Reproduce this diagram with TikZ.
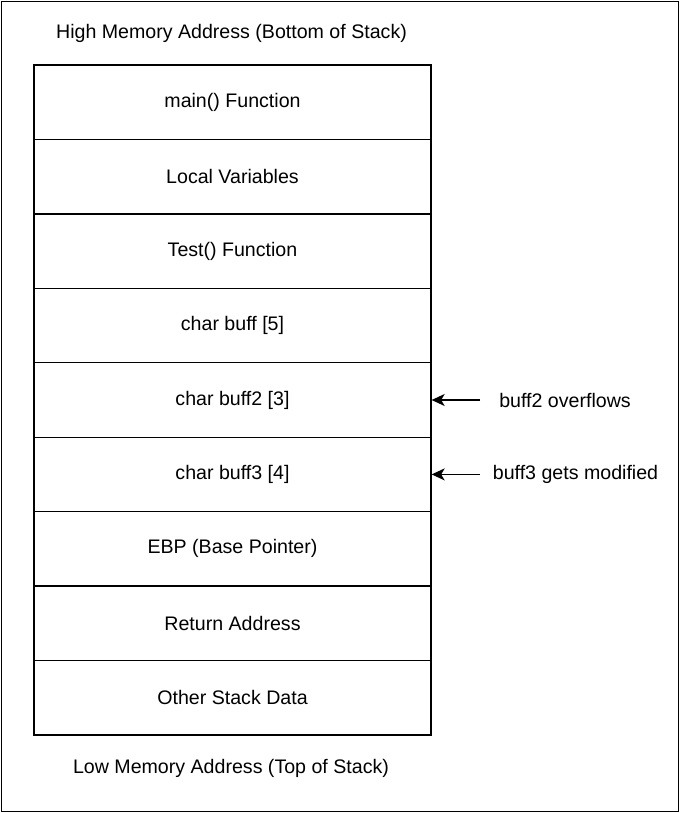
\documentclass[tikz,border=0pt]{standalone}
\usepackage{fontspec}
\setmainfont{Liberation Sans}
\usepackage{tikz}
\usetikzlibrary{arrows.meta, positioning}

\begin{document}
\begin{tikzpicture}[x=1pt, y=-1pt,
    cell/.style={draw, line width=1.3pt, minimum width=397pt, minimum height=74.44pt, inner sep=0pt, font=\fontsize{19.6}{23}\selectfont},
    note/.style={font=\fontsize{19.6}{23}\selectfont},
    ptr/.style={-{Stealth[length=13pt, width=12pt, inset=3.5pt]}, line width=1.3pt}]
  \useasboundingbox (0,0) rectangle (680,813);
  % Outer frame
  \draw[line width=1.5pt] (1.5,1.5) rectangle (678.5,811.5);

  % Titles
  \node[note] (hi) at (231.5, 33) {High Memory Address (Bottom of Stack)};
  \node[note] (lo) at (231, 768) {Low Memory Address (Top of Stack)};

  % Stack cells
  \node[cell] (c1) at (232.5, 102.2) {main() Function};
  \node[cell] (c2) at (232.5, 176.7) {Local Variables};
  \node[cell] (c3) at (232.5, 251.1) {Test() Function};
  \node[cell] (c4) at (232.5, 325.5) {char buff [5]};
  \node[cell] (c5) at (232.5, 400.0) {char buff2 [3]};
  \node[cell] (c6) at (232.5, 474.4) {char buff3 [4]};
  \node[cell] (c7) at (232.5, 548.9) {EBP (Base Pointer)};
  \node[cell] (c8) at (232.5, 623.3) {Return Address};
  \node[cell] (c9) at (232.5, 697.8) {Other Stack Data};

  % Overflow notes
  \node[note] (l5) at (565, 400) {buff2 overflows};
  \node[note] (l6) at (575.5, 474.4) {buff3 gets modified};
  \coordinate (a5) at (480, 400);
  \coordinate (a6) at (480, 474.4);
  \draw[ptr] (a5) -- (c5.east);
  \draw[ptr] (a6) -- (c6.east);
\end{tikzpicture}
\end{document}
